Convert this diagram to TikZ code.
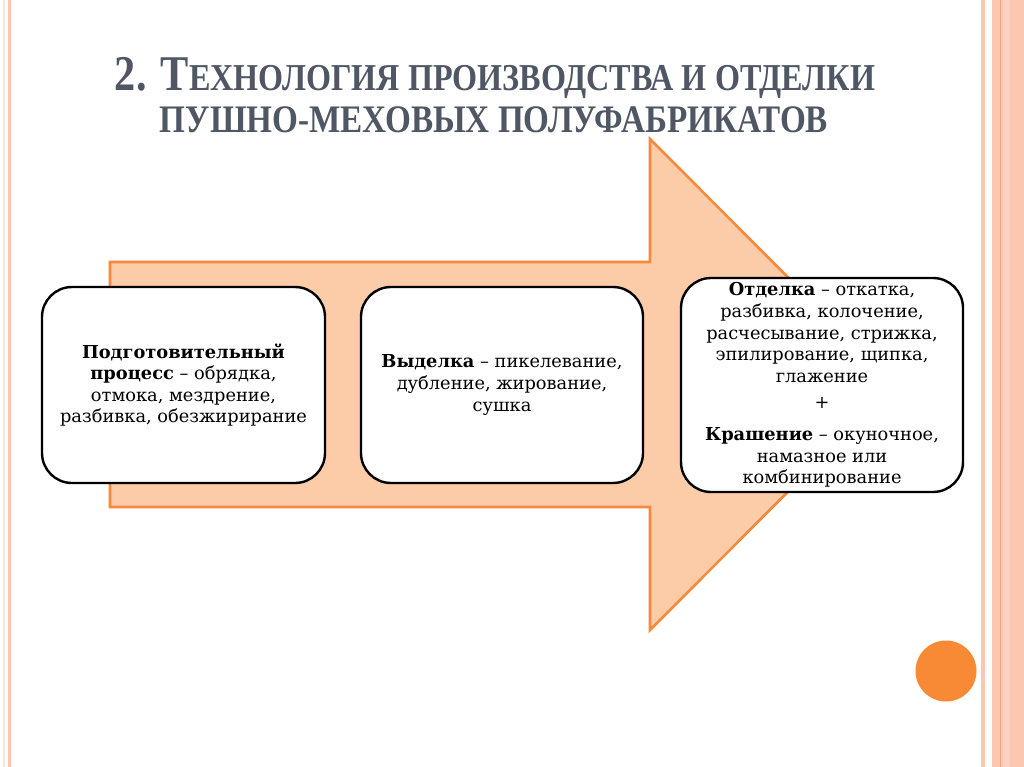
\documentclass[tikz,border=0pt]{standalone}
\usepackage{fontspec}
\usepackage{graphicx}
\setmainfont{DejaVu Serif}
\newfontfamily\titlefont{Liberation Serif}
\definecolor{titlegray}{HTML}{4F5765}
\definecolor{arrowfill}{HTML}{FCCBA8}
\definecolor{arrowline}{HTML}{F38A3E}
\definecolor{dotorange}{HTML}{F98A35}
\definecolor{stripe}{HTML}{FBC6B2}
\definecolor{stripedark}{HTML}{F2A07C}
\tikzset{
  stepbox/.style={draw=black, line width=2.4pt, rounded corners=30pt, fill=white,
    align=center, inner sep=2pt, font=\fontsize{17.8}{21.6}\selectfont},
  titletext/.style={text=titlegray, font=\titlefont\bfseries, inner sep=0pt, anchor=base}
}
\begin{document}
\begin{tikzpicture}[x=1pt,y=-1pt]
\useasboundingbox (0,0) rectangle (1024,767);
\fill[white] (0,0) rectangle (1024,767);
% frame stripes
\fill[stripe!50] (3,0) rectangle (5,767);
\fill[stripe] (8,0) rectangle (10.5,767);
\fill[stripe] (981,0) rectangle (985,767);
\fill[stripe] (992,0) rectangle (1024,767);
\fill[stripe!80!white] (1003,0) rectangle (1010,767);
\fill[stripedark] (999.5,0) rectangle (1001,767);
% title
\node[titletext] (t1) at (495,91) {\resizebox{760pt}{\height}{{\fontsize{50}{50}\selectfont 2. Т}{\fontsize{38}{38}\selectfont ЕХНОЛОГИЯ ПРОИЗВОДСТВА И ОТДЕЛКИ}}};
\node[titletext] (t2) at (494,133) {\resizebox{668pt}{\height}{\fontsize{39}{39}\selectfont ПУШНО-МЕХОВЫХ ПОЛУФАБРИКАТОВ}};
% big arrow
\draw[fill=arrowfill, draw=arrowline, line width=2.6pt, line join=miter]
  (110,262) -- (650,262) -- (650,139) -- (895,384.5) -- (650,630) -- (650,507) -- (110,507) -- cycle;
% boxes
\node[stepbox, minimum width=283pt, minimum height=196pt] (b1) at (183.5,385)
  {\textbf{Подготовительный}\\ \textbf{процесс} – обрядка,\\ отмока, мездрение,\\ разбивка, обезжирирание};
\node[stepbox, minimum width=282pt, minimum height=196pt] (b2) at (502,385)
  {\textbf{Выделка} – пикелевание,\\ дубление, жирование,\\ сушка};
\node[stepbox, minimum width=282pt, minimum height=214pt] (b3) at (822,385)
  {\textbf{Отделка} – откатка,\\ разбивка, колочение,\\ расчесывание, стрижка,\\ эпилирование, щипка,\\ глажение\\[5pt] +\\[10pt] \textbf{Крашение} – окуночное,\\ намазное или\\ комбинирование};
% orange dot
\fill[dotorange] (946,671) circle (30.5);
\end{tikzpicture}
\end{document}
